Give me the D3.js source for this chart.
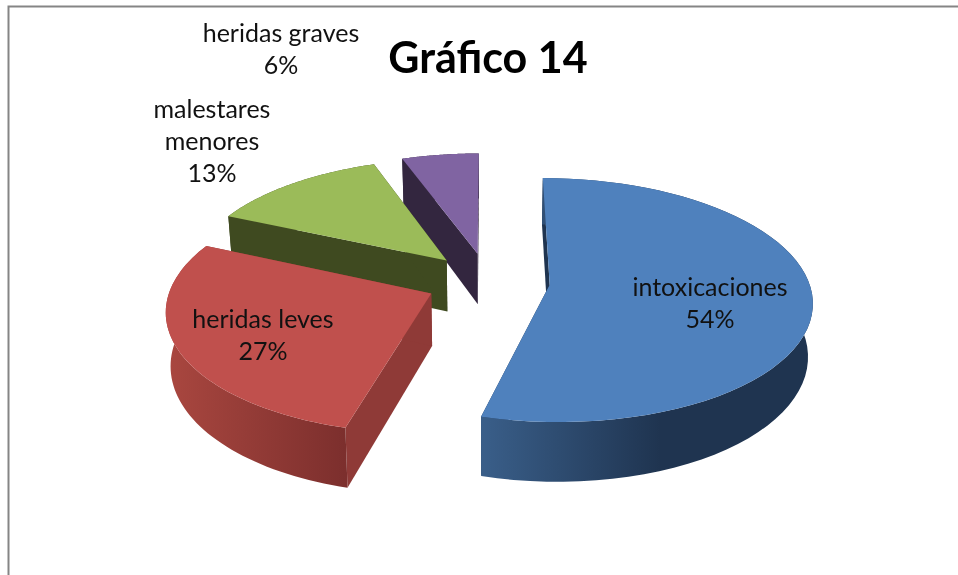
<!DOCTYPE html>
<html>
<head>
<meta charset="utf-8">
<script src="https://cdn.jsdelivr.net/npm/d3@7"></script>
<style>
html, body { margin: 0; padding: 0; background: #fff; }
svg { display: block; filter: blur(0.5px); }
text { font-family: Lato, "Open Sans", sans-serif; }
</style>
</head>
<body>
<div id="chart"></div>
<script>
var w = 958;
var h = 575;

// values, labels round them to 54, 27, 13, 6
var categories = ["intoxicaciones", "heridas leves", "malestares menores", "heridas graves"];
var values = [54.2, 27.49, 12.81, 5.5];
var topColors = ["#4f81bd", "#c0504d", "#9bbb59", "#8064a2"];
var wallColors = ["#1f3450", "#8f3a37", "#3f4a20", "#33263f"];
var rimStart = ["#3a5f8a", "#a8463f", "#3f4a20", "#33263f"];
var rimEnd = ["#1f3450", "#7c2f2d", "#3f4a20", "#33263f"];
var labelLines = [["intoxicaciones"], ["heridas leves"], ["malestares", "menores"], ["heridas graves"]];
var chartTitle = "Gráfico 14";

// layout of the fake 3d pie
var cx = 488, cy = 281;
var R = 259, explode = 62, tilt = 0.46, persp = 0.125, depth = 52, shrink = 0.985;
var labelX = [710, 263, 212, 281];
var labelY = [288, 320, 110, 34];
var lineH = 32;

var svg = d3.select("#chart").append("svg")
	.attr("width", w)
	.attr("height", h);

svg.append("rect").attr("width", w).attr("height", h).attr("fill", "#fff");

// chart frame, runs off the right and bottom of the picture
svg.append("path")
	.attr("d", "M8.5," + (h + 4) + "V6.5H" + (w + 4))
	.attr("fill", "none")
	.attr("stroke", "#858585")
	.attr("stroke-width", 2);

function project(X, Y, low) {
	var g = 1 / (1 + persp * Y / R);
	var sx = cx + X * g;
	var sy = cy - Y * tilt * g;
	if (low) {
		sx = cx + (sx - cx) * shrink;
		sy += depth * g;
	}
	return [sx, sy];
}

var pie = d3.pie().sort(null).value(function(d) { return d; });
var arcs = pie(values);
var line = d3.line();

var defs = svg.append("defs");

// back slices first
var order = d3.range(arcs.length).reverse();

order.forEach(function(i) {
	var a = arcs[i];
	var mid = (a.startAngle + a.endAngle) / 2;
	var ox = explode * Math.sin(mid);
	var oy = explode * Math.cos(mid);

	var rim = d3.range(0, 61).map(function(n) {
		var t = a.startAngle + (a.endAngle - a.startAngle) * n / 60;
		return [ox + R * Math.sin(t), oy + R * Math.cos(t)];
	});

	var topRim = rim.map(function(p) { return project(p[0], p[1], false); });
	var lowRim = rim.map(function(p) { return project(p[0], p[1], true); });
	var apexTop = project(ox, oy, false);
	var apexLow = project(ox, oy, true);

	// rim shading goes left to right across the visible part
	var gradX = i == 0 ? [apexTop[0] - 70, 660] : [172, topRim[0][0]];
	var grad = defs.append("linearGradient")
		.attr("id", "rim" + i)
		.attr("gradientUnits", "userSpaceOnUse")
		.attr("x1", gradX[0]).attr("x2", gradX[1])
		.attr("y1", 0).attr("y2", 0);
	grad.append("stop").attr("offset", 0).attr("stop-color", rimStart[i]);
	grad.append("stop").attr("offset", 1).attr("stop-color", rimEnd[i]);

	var g = svg.append("g").attr("class", "slice");

	// cut faces
	[[topRim[0], lowRim[0]], [topRim[60], lowRim[60]]].forEach(function(e) {
		g.append("path")
			.attr("d", line([e[0], e[1], apexLow, apexTop]) + "Z")
			.attr("fill", wallColors[i]);
	});

	// outer wall
	g.append("path")
		.attr("d", line(topRim.concat(lowRim.slice().reverse())) + "Z")
		.attr("fill", "url(#rim" + i + ")");

	// top
	g.append("path")
		.attr("d", line([apexTop].concat(topRim)) + "Z")
		.attr("fill", topColors[i]);
});

// data labels
categories.forEach(function(c, i) {
	var lines = labelLines[i].concat([d3.format(".0f")(values[i]) + "%"]);
	svg.append("text")
		.attr("text-anchor", "middle")
		.attr("font-size", 25)
		.attr("fill", "#111")
		.selectAll("tspan")
		.data(lines)
		.enter().append("tspan")
		.attr("x", labelX[i])
		.attr("y", function(d, n) { return labelY[i] + n * lineH + 8; })
		.text(function(d) { return d; });
});

svg.append("text")
	.attr("x", 488)
	.attr("y", 73)
	.attr("text-anchor", "middle")
	.attr("font-size", 43)
	.attr("font-weight", "bold")
	.attr("fill", "#000")
	.text(chartTitle);
</script>
</body>
</html>
